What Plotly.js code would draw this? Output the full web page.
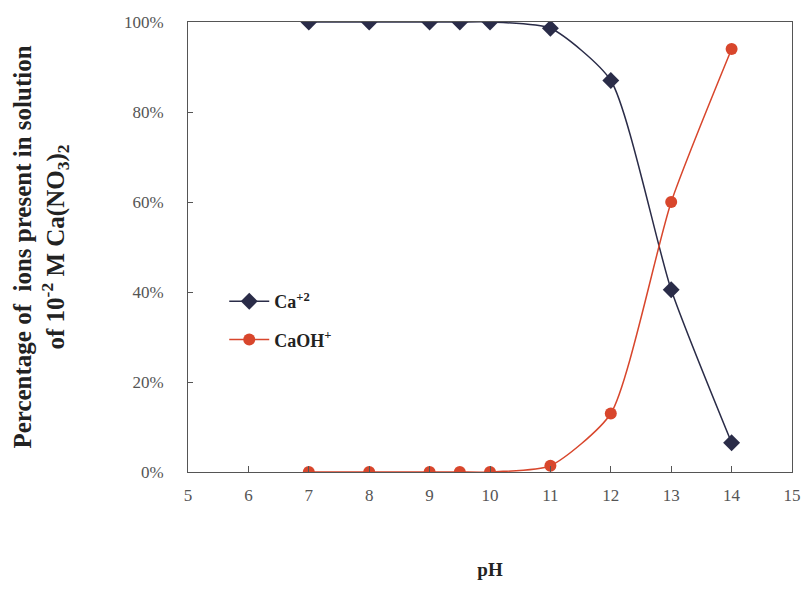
<!DOCTYPE html>
<html><head><meta charset="utf-8">
<script src="https://cdn.plot.ly/plotly-3.0.1.min.js"></script>
<style>body{margin:0;background:#fff}</style>
</head><body>
<div id="chart" style="width:806px;height:598px"></div>
<script>
const pH = [7, 8, 9, 9.5, 10, 11, 12, 13, 14];
const caIon = [100, 100, 100, 100, 100, 98.6, 87, 40.5, 6.5];
const caOH = [0, 0, 0, 0, 0, 1.4, 13, 60, 94];
const yTickVals = [0, 20, 40, 60, 80, 100];
const yTickText = ['0%', '20%', '40%', '60%', '80%', '100%'];
const xTickVals = [5, 6, 7, 8, 9, 10, 11, 12, 13, 14, 15];

const serif = 'Liberation Serif, Times New Roman, serif';
const traces = [
  {x: pH, y: caIon, name: 'Ca<sup>+2</sup>', legendgroup: 'a', mode: 'lines+markers',
   line: {color: '#2a2c48', width: 1.5, shape: 'spline', smoothing: 0.6},
   marker: {symbol: 'diamond', size: 13, color: '#2a2c48'}},
  {x: pH, y: caOH, name: 'CaOH<sup>+</sup>', legendgroup: 'b', mode: 'lines+markers',
   line: {color: '#d8462c', width: 1.5, shape: 'spline', smoothing: 0.6},
   marker: {symbol: 'circle', size: 12, color: '#d8462c'}}
];
const layout = {
  width: 806, height: 598,
  margin: {l: 188, r: 14, t: 22, b: 126},
  paper_bgcolor: '#fff', plot_bgcolor: '#fff',
  showlegend: true,
  legend: {x: 0.06, y: 0.42, xanchor: 'left', yanchor: 'top',
    font: {family: serif, size: 18, color: '#222', weight: 'bold'},
    bgcolor: 'rgba(0,0,0,0)', itemwidth: 40, traceorder: 'grouped', tracegroupgap: 12},
  xaxis: {range: [5, 15], tickvals: xTickVals, showgrid: false, zeroline: false,
    showline: true, linecolor: '#555', linewidth: 1, mirror: true,
    ticks: 'inside', ticklen: 6, tickcolor: '#555', ticklabelstandoff: 8,
    tickfont: {family: serif, size: 17, color: '#555'},
    title: {text: 'pH', font: {family: serif, size: 19, color: '#222', weight: 'bold'}, standoff: 58}},
  yaxis: {range: [0, 100], tickvals: yTickVals, ticktext: yTickText, showgrid: false, zeroline: false,
    showline: true, linecolor: '#555', linewidth: 1, mirror: true,
    ticks: 'inside', ticklen: 5, tickcolor: '#555', ticklabelstandoff: 20,
    tickfont: {family: serif, size: 17, color: '#555'},
    title: {text: 'Percentage of  ions present in solution<br>of 10<sup>-2</sup> M Ca(NO<sub>3</sub>)<sub>2</sub>',
      font: {family: serif, size: 25, color: '#222', weight: 'bold'}, standoff: 52}}
};
Plotly.newPlot('chart', traces, layout, {displayModeBar: false, staticPlot: true});
</script>
</body></html>
